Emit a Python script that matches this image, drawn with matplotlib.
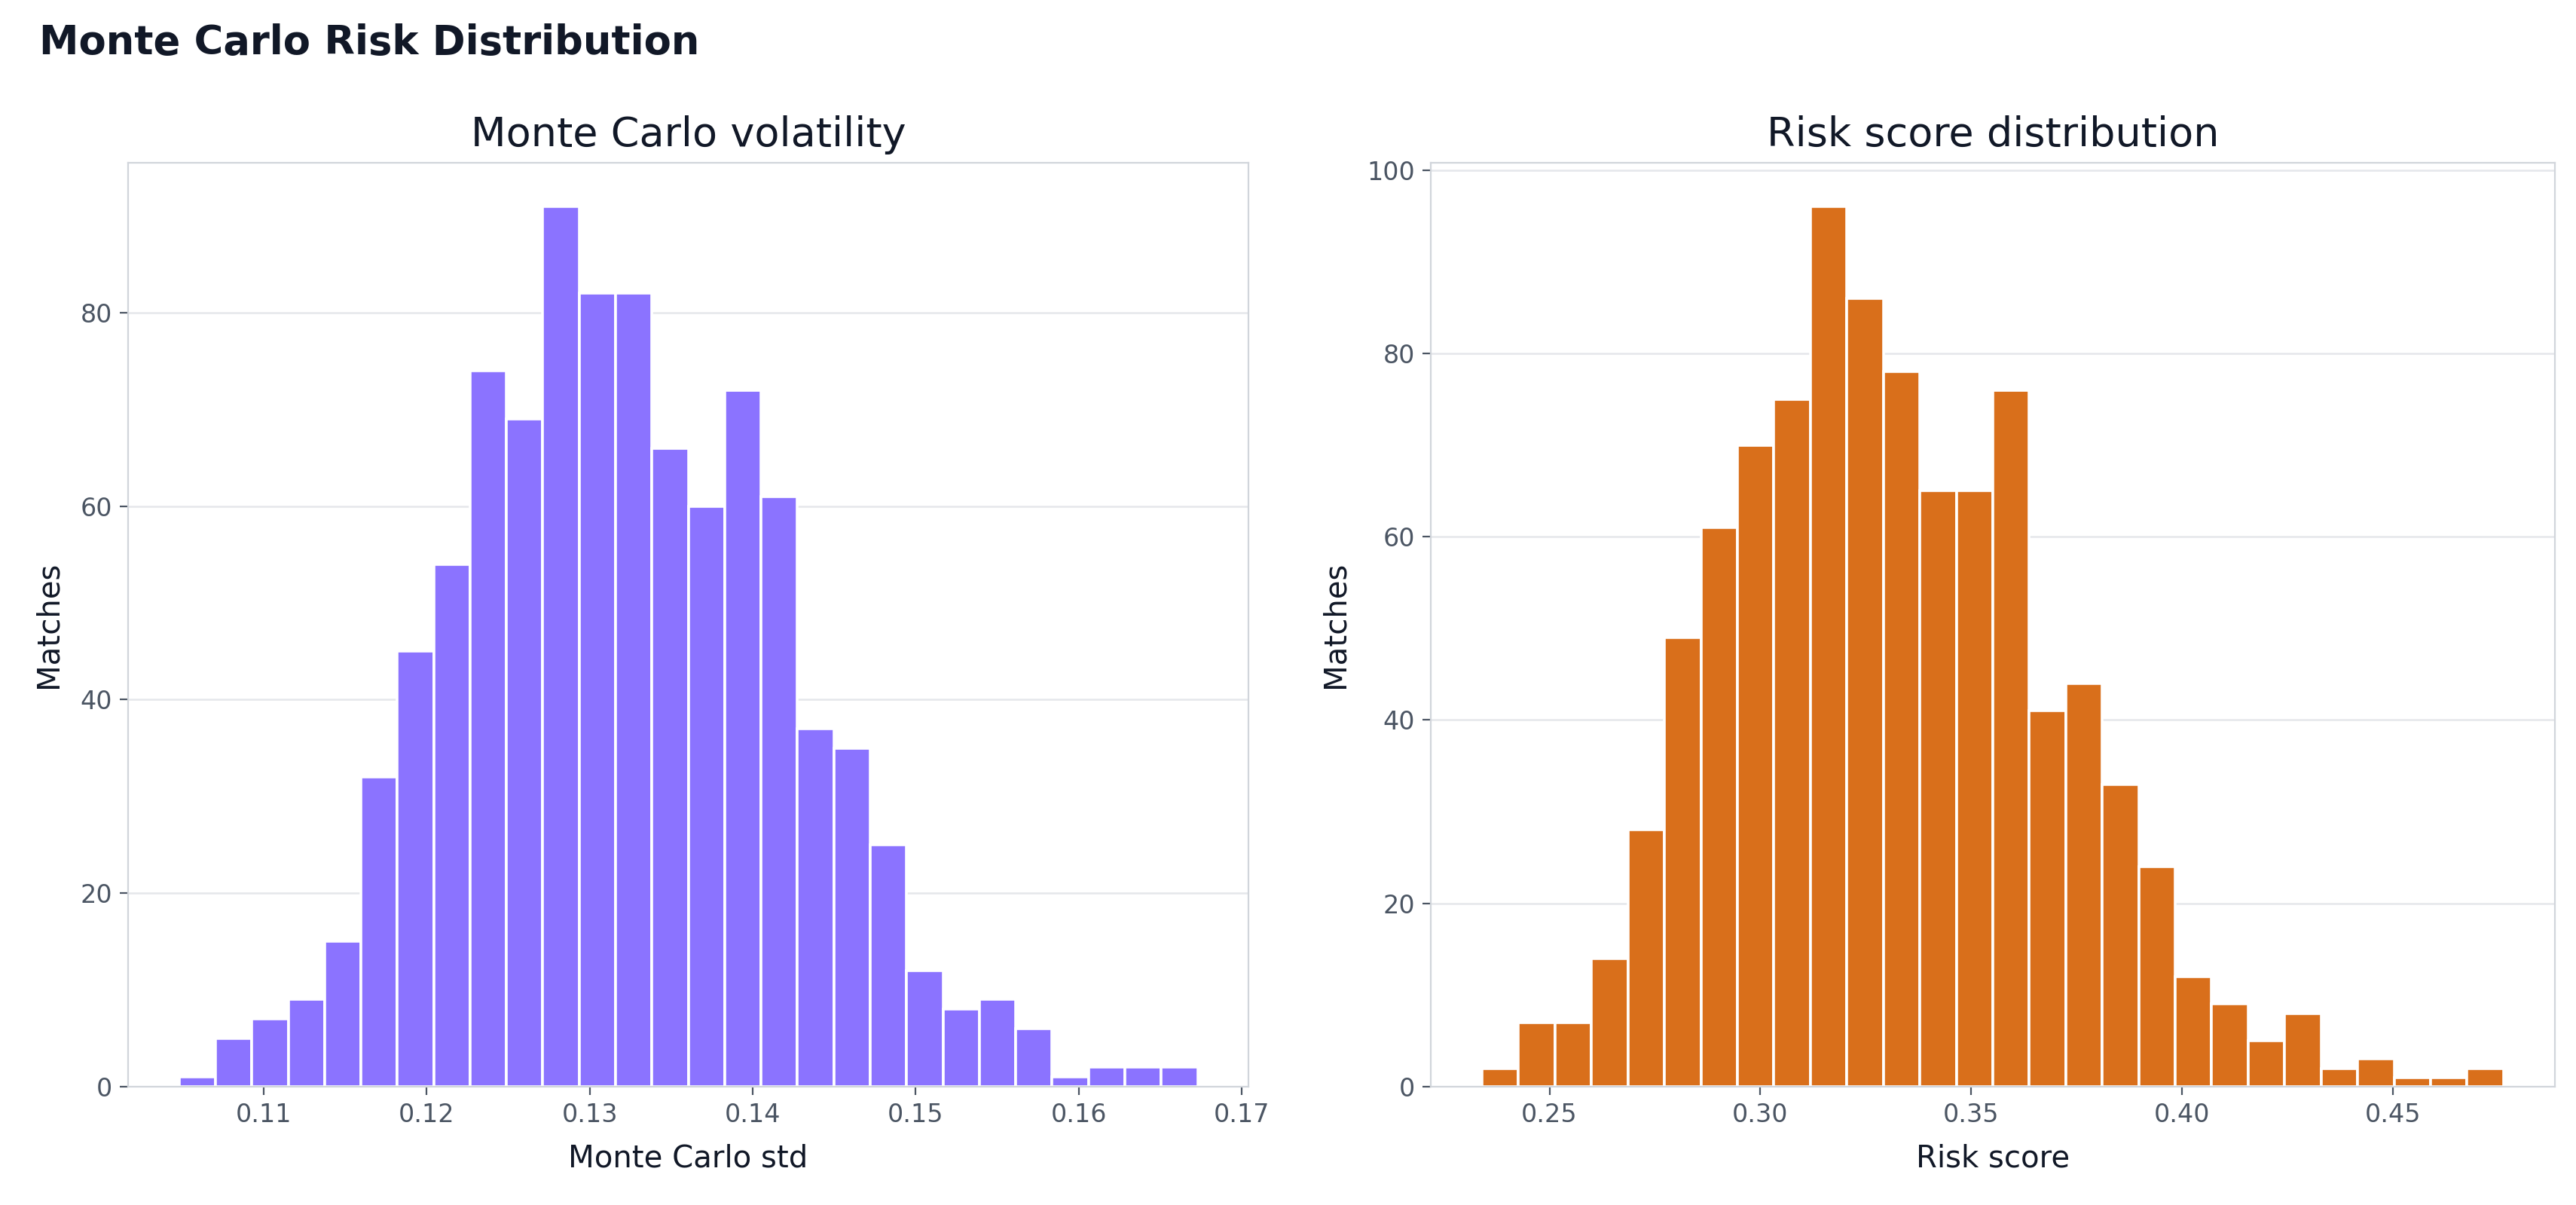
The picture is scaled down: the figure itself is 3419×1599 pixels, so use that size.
import matplotlib
matplotlib.use("Agg")
import matplotlib.pyplot as plt
import numpy as np

vol_counts = [1,5,7,9,15,32,45,54,74,69,91,82,82,66,60,72,61,37,35,25,12,8,9,6,1,2,2,2]
vol_range = (0.1048, 0.1673)
risk_counts = [2,7,7,14,28,49,61,70,75,96,86,78,65,65,76,41,44,33,24,12,9,5,8,2,3,1,1,2]
risk_range = (0.2340, 0.4763)

W, H = 1568, 733
fig = plt.figure(figsize=(17.095, 7.995), dpi=200)
fig.text(24/W, 1-26/H, "Monte Carlo Risk Distribution", fontsize=19, fontweight="bold",
         color="#111827", va="center", ha="left")

def panel(rect, counts, rng, color, title, xlabel, yticks, xticks, xfmt):
    ax = fig.add_axes(rect)
    n = len(counts)
    edges = np.linspace(rng[0], rng[1], n+1)
    ax.bar(edges[:-1], counts, width=np.diff(edges), align="edge", color=color,
           edgecolor="white", linewidth=1.3, zorder=2)
    ax.set_title(title, fontsize=19.5, color="#111827", pad=8)
    ax.set_xlabel(xlabel, fontsize=14.5, color="#111827", labelpad=8)
    ax.set_ylabel("Matches", fontsize=14.5, color="#111827", labelpad=8)
    ax.set_yticks(yticks)
    ax.set_xticks(xticks)
    ax.set_xticklabels([xfmt.format(v) for v in xticks])
    ax.grid(axis="y", color="#e5e7eb", linewidth=0.9, zorder=0)
    ax.set_axisbelow(True)
    for s in ax.spines.values():
        s.set_color("#d1d5db")
    ax.tick_params(colors="#4b5563", labelsize=12, length=4)
    return ax

def r(x0, x1, y0, y1):
    return [x0/W, 1-y1/H, (x1-x0)/W, (y1-y0)/H]

a1 = panel(r(78, 760, 99, 661), vol_counts, vol_range, "#8b73ff", "Monte Carlo volatility",
           "Monte Carlo std", [0,20,40,60,80], [0.11,0.12,0.13,0.14,0.15,0.16,0.17], "{:.2f}")
a1.set_ylim(0, 95.5)
a2 = panel(r(871, 1555, 99, 661), risk_counts, risk_range, "#d96f1b", "Risk score distribution",
           "Risk score", [0,20,40,60,80,100], [0.25,0.30,0.35,0.40,0.45], "{:.2f}")
a2.set_ylim(0, 100.8)
fig.savefig("out.png", dpi=200)
